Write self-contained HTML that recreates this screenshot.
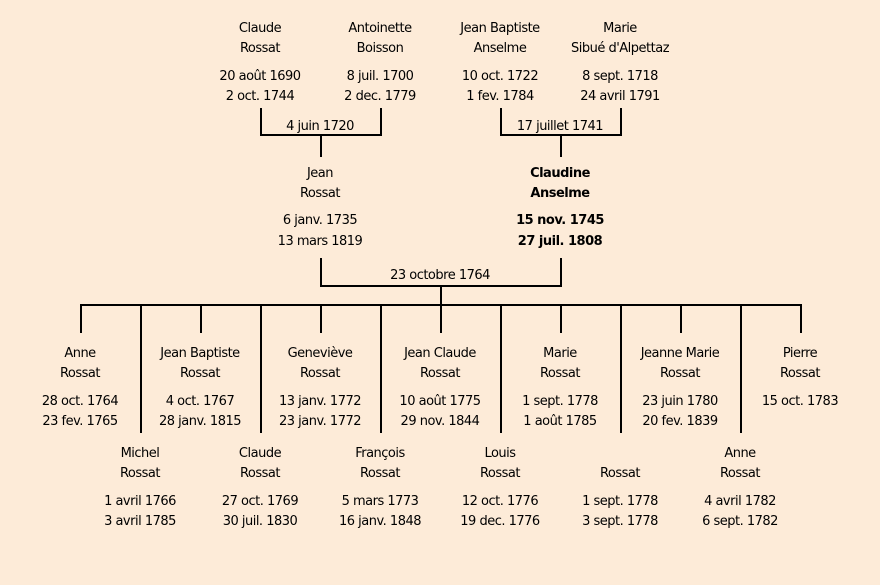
<!DOCTYPE html>
<html><head><meta charset="utf-8"><style>
html,body{margin:0;padding:0;background:#fdebd8;}
svg{display:block}
text{font-family:"DejaVu Sans","Liberation Sans",sans-serif;font-size:13px;fill:#000;text-anchor:middle;letter-spacing:-0.5px}
.b{font-weight:bold}
</style></head><body>
<svg width="880" height="585" viewBox="0 0 880 585" xmlns="http://www.w3.org/2000/svg">
<rect width="880" height="585" fill="#fdebd8"/>
<g stroke="#000" stroke-width="2" fill="none">
<path d="M261 108V135H381V108M321 135V157"/>
<path d="M501 108V135H621V108M561 135V157"/>
<path d="M321 258V286H561V258M441 286V305"/>
<path d="M80 305H802"/>
<path d="M81 305V333M201 305V333M321 305V333M441 305V333M561 305V333M681 305V333M801 305V333"/>
<path d="M141 305V433M261 305V433M381 305V433M501 305V433M621 305V433M741 305V433"/>
</g>
<g>
<text x="260" y="32">Claude</text><text x="260" y="52">Rossat</text><text x="260" y="80">20 août 1690</text><text x="260" y="100">2 oct. 1744</text>
<text x="380" y="32">Antoinette</text><text x="380" y="52">Boisson</text><text x="380" y="80">8 juil. 1700</text><text x="380" y="100">2 dec. 1779</text>
<text x="500" y="32">Jean Baptiste</text><text x="500" y="52">Anselme</text><text x="500" y="80">10 oct. 1722</text><text x="500" y="100">1 fev. 1784</text>
<text x="620" y="32">Marie</text><text x="620" y="52">Sibué d'Alpettaz</text><text x="620" y="80">8 sept. 1718</text><text x="620" y="100">24 avril 1791</text>
<text x="320" y="130">4 juin 1720</text>
<text x="560" y="130">17 juillet 1741</text>
<text x="320" y="177">Jean</text><text x="320" y="197">Rossat</text><text x="320" y="224">6 janv. 1735</text><text x="320" y="245">13 mars 1819</text>
<text class="b" x="560" y="177">Claudine</text><text class="b" x="560" y="197">Anselme</text><text class="b" x="560" y="224">15 nov. 1745</text><text class="b" x="560" y="245">27 juil. 1808</text>
<text x="440" y="279">23 octobre 1764</text>

<text x="80" y="357">Anne</text><text x="80" y="377">Rossat</text><text x="80" y="405">28 oct. 1764</text><text x="80" y="425">23 fev. 1765</text>
<text x="200" y="357">Jean Baptiste</text><text x="200" y="377">Rossat</text><text x="200" y="405">4 oct. 1767</text><text x="200" y="425">28 janv. 1815</text>
<text x="320" y="357">Geneviève</text><text x="320" y="377">Rossat</text><text x="320" y="405">13 janv. 1772</text><text x="320" y="425">23 janv. 1772</text>
<text x="440" y="357">Jean Claude</text><text x="440" y="377">Rossat</text><text x="440" y="405">10 août 1775</text><text x="440" y="425">29 nov. 1844</text>
<text x="560" y="357">Marie</text><text x="560" y="377">Rossat</text><text x="560" y="405">1 sept. 1778</text><text x="560" y="425">1 août 1785</text>
<text x="680" y="357">Jeanne Marie</text><text x="680" y="377">Rossat</text><text x="680" y="405">23 juin 1780</text><text x="680" y="425">20 fev. 1839</text>
<text x="800" y="357">Pierre</text><text x="800" y="377">Rossat</text><text x="800" y="405">15 oct. 1783</text>

<text x="140" y="457">Michel</text><text x="140" y="477">Rossat</text><text x="140" y="505">1 avril 1766</text><text x="140" y="525">3 avril 1785</text>
<text x="260" y="457">Claude</text><text x="260" y="477">Rossat</text><text x="260" y="505">27 oct. 1769</text><text x="260" y="525">30 juil. 1830</text>
<text x="380" y="457">François</text><text x="380" y="477">Rossat</text><text x="380" y="505">5 mars 1773</text><text x="380" y="525">16 janv. 1848</text>
<text x="500" y="457">Louis</text><text x="500" y="477">Rossat</text><text x="500" y="505">12 oct. 1776</text><text x="500" y="525">19 dec. 1776</text>
<text x="620" y="477">Rossat</text><text x="620" y="505">1 sept. 1778</text><text x="620" y="525">3 sept. 1778</text>
<text x="740" y="457">Anne</text><text x="740" y="477">Rossat</text><text x="740" y="505">4 avril 1782</text><text x="740" y="525">6 sept. 1782</text>
</g>
</svg>
</body></html>
